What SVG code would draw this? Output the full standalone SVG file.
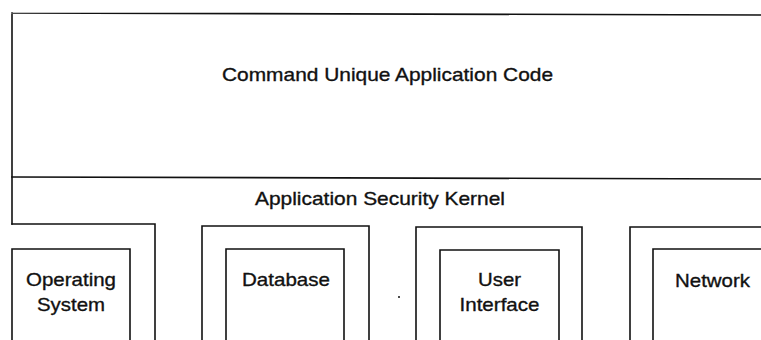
<svg xmlns="http://www.w3.org/2000/svg" width="761" height="340" viewBox="0 0 761 340">
<style>
.ln{fill:none;stroke:#111;stroke-width:1.6;stroke-linecap:square}
.t{font-family:"Liberation Sans",Arial,sans-serif;font-size:19px;fill:#111;stroke:#111;stroke-width:0.35;text-anchor:middle}
</style>
<rect width="761" height="340" fill="#fff"/>
<g id="app-code">
<path class="ln" d="M12,13 L761,15 M12,13 L12,224"/>
<text class="t" x="387.5" y="81" textLength="331" lengthAdjust="spacingAndGlyphs">Command Unique Application Code</text>
</g>
<g id="security-kernel">
<path class="ln" d="M12,177 L761,179 M12,224 L155,224 L155,341"/>
<text class="t" x="380" y="205" textLength="250" lengthAdjust="spacingAndGlyphs">Application Security Kernel</text>
</g>
<g id="operating-system">
<path class="ln" d="M12,341 L12,249 L130,249 L130,341"/>
<text class="t" x="71" y="286" textLength="90" lengthAdjust="spacingAndGlyphs">Operating</text>
<text class="t" x="71" y="311" textLength="68" lengthAdjust="spacingAndGlyphs">System</text>
</g>
<g id="database">
<path class="ln" d="M202,341 L202,226 L369,226 L369,341"/>
<path class="ln" d="M226,341 L226,249 L344,249 L344,341"/>
<text class="t" x="286" y="286" textLength="88" lengthAdjust="spacingAndGlyphs">Database</text>
</g>
<g id="user-interface">
<path class="ln" d="M416,341 L416,227 L582,227 L582,341"/>
<path class="ln" d="M440,341 L440,250 L559,250 L559,341"/>
<text class="t" x="499.5" y="286" textLength="43" lengthAdjust="spacingAndGlyphs">User</text>
<text class="t" x="499.5" y="311" textLength="80" lengthAdjust="spacingAndGlyphs">Interface</text>
</g>
<g id="network">
<path class="ln" d="M630,341 L630,227 L762,227"/>
<path class="ln" d="M653,341 L653,249 L762,249"/>
<text class="t" x="712.5" y="287" textLength="75" lengthAdjust="spacingAndGlyphs">Network</text>
</g>
<g id="connectors"></g>
<circle cx="399" cy="297" r="1" fill="#111"/>
</svg>
